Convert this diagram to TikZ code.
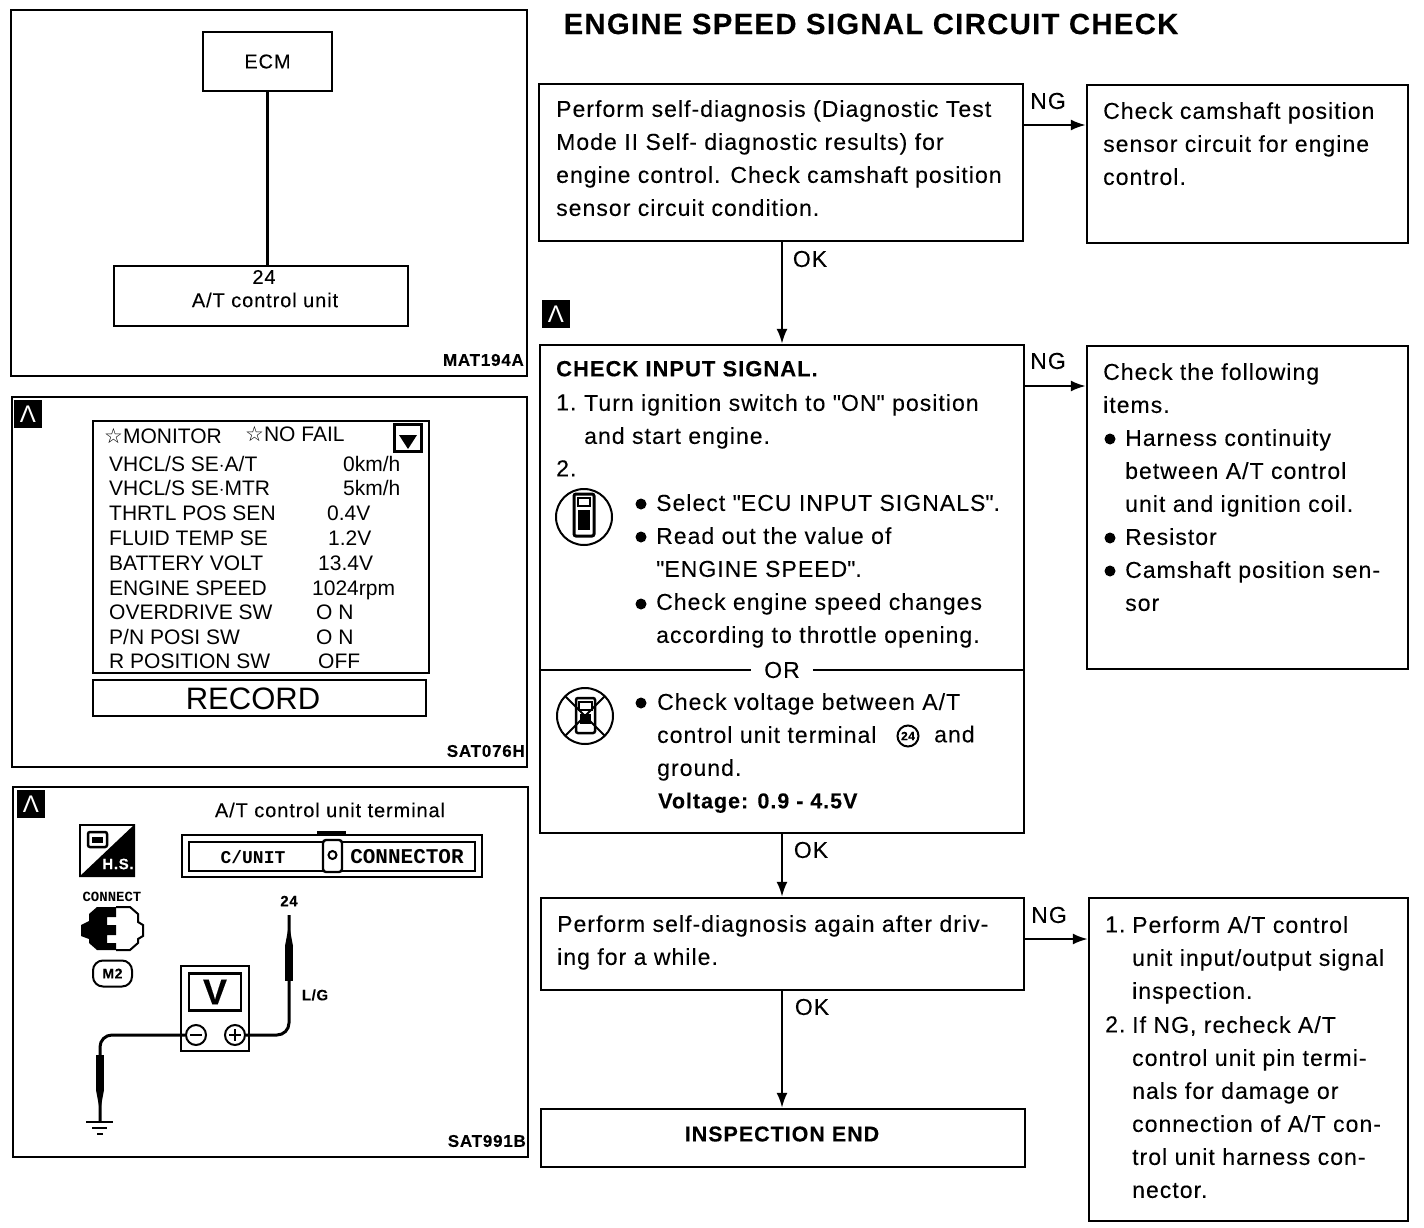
\documentclass[tikz,border=0pt]{standalone}
\usepackage{fontspec}
\setmainfont[LetterSpace=4.5, FakeBold=0.15]{Liberation Sans}
\newfontfamily\symfont{DejaVu Sans}
\newfontfamily\screenfont{Liberation Sans}
\newfontfamily\platefont{Liberation Mono}
\newfontfamily\quotefont[Ligatures=ResetAll, LetterSpace=4.5, FakeBold=0.15]{Liberation Sans}
\newcommand{\dq}{{\quotefont\symbol{"22}}}
\usetikzlibrary{arrows.meta}

\tikzset{
    panel/.style={draw, line width=2pt, inner sep=0pt},
    flowbox/.style={draw, line width=2.4pt, inner sep=0pt},
    flowarrow/.style={line width=2.2pt, -{Latex[length=15pt,width=11pt]}},
    badge/.style={fill=black, text=white, inner sep=0pt, minimum size=28pt, font=\screenfont\fontsize{24}{24}\selectfont},
    body/.style={anchor=north west, inner sep=0pt, yshift=1pt, align=left, font=\fontsize{23}{33}\selectfont, execute at begin node=\strut},
    small/.style={inner sep=0pt, font=\fontsize{20}{20}\selectfont},
    code/.style={anchor=east, inner sep=0pt, font=\bfseries\fontsize{17}{17}\selectfont},
    screen/.style={anchor=west, inner sep=0pt, yshift=-1pt, text height=16pt, text depth=4pt, font=\screenfont\fontsize{21}{22}\selectfont},
    tag/.style={inner sep=0pt, font=\fontsize{23}{23}\selectfont},
    dot/.style={circle, fill=black, inner sep=0pt, minimum size=11pt},
    probe/.style={line width=8pt},
    wire/.style={line width=3pt, rounded corners=12pt}
}

\begin{document}
\begin{tikzpicture}[x=1pt, y=-1pt]
    \useasboundingbox (0,0) rectangle (1424,1228);

    % Title
    \node[inner sep=0pt, font=\bfseries\fontsize{29.3}{29.3}\selectfont] (title) at (871,24) {ENGINE SPEED SIGNAL CIRCUIT CHECK};

    % Wiring panel
    \node[panel, minimum width=516pt, minimum height=366pt] (wiringpanel) at (269,193) {};
    \node[flowbox, minimum width=129pt, minimum height=59pt, font=\fontsize{20}{20}\selectfont] (ecm) at (267.5,61.5) {ECM};
    \node[flowbox, minimum width=294pt, minimum height=60pt] (tcu) at (261,296) {};
    \draw[line width=2.2pt] (ecm.south) -- (ecm.south |- tcu.north);
    \node[small] (tcupin) at (264,277) {24};
    \node[small] (tculabel) at (265,300) {A/T control unit};
    \node[code] (wiringcode) at (524,360) {MAT194A};

    % Monitor panel
    \node[panel, minimum width=515pt, minimum height=370pt] (monitorpanel) at (269.5,582) {};
    \node[badge] (badgemonitor) at (28,414) {Λ};
    \node[panel, minimum width=336pt, minimum height=252pt] (display) at (261,547) {};
    \node[screen] (monitorhead) at (104,436) {{\symfont ☆}MONITOR};
    \node[screen] (failhead) at (245,434) {{\symfont ☆}NO FAIL};
    \node[panel, line width=3pt, minimum size=27pt] (scrollbox) at (407.5,437.5) {};
    \fill (399,435) -- (417,435) -- (408,449) -- cycle;
    \foreach \row/\lab/\val/\vx/\vy in {
        a/{VHCL/S SE$\cdot$A/T}/{0km/h}/343/464,
        b/{VHCL/S SE$\cdot$MTR}/{5km/h}/343/488,
        c/{THRTL POS SEN}/{0.4V}/327/513,
        d/{FLUID TEMP SE}/{1.2V}/328/538,
        e/{BATTERY VOLT}/{13.4V}/318/563,
        f/{ENGINE SPEED}/{1024rpm}/312/588,
        g/{OVERDRIVE SW}/{O N}/316/612,
        h/{P/N POSI SW}/{O N}/316/637,
        i/{R POSITION SW}/{OFF}/318/661}
    {
        \node[screen] (lab\row) at (109,\vy) {\lab};
        \node[screen] (val\row) at (\vx,\vy) {\val};
    }
    \node[panel, minimum width=333pt, minimum height=36pt] (record) at (259.5,698) {};
    \node[inner sep=0pt, font=\screenfont\fontsize{31}{31}\selectfont] (recordlabel) at (253,699) {RECORD};
    \node[code] (monitorcode) at (525,751) {SAT076H};

    % Tester panel
    \node[panel, minimum width=515pt, minimum height=370pt] (testerpanel) at (270.5,972) {};
    \node[badge] (badgetester) at (31,804) {Λ};
    \node[inner sep=0pt, font=\fontsize{20}{20}\selectfont] (termhead) at (330,810) {A/T control unit terminal};

    % Harness connector
    \fill (317,831) rectangle (346,836);
    \node[flowbox, minimum width=300pt, minimum height=42pt] (connouter) at (332,856) {};
    \node[flowbox, minimum width=286pt, minimum height=29pt] (conninner) at (332,856.5) {};
    \node[flowbox, fill=white, minimum width=19pt, minimum height=32pt, rounded corners=3pt] (connlock) at (332.5,856) {};
    \draw[line width=2pt] (332.5,855) circle (4pt);
    \node[inner sep=0pt, font=\platefont\bfseries\fontsize{18}{18}\selectfont] (connleft) at (253,857) {C/UNIT};
    \node[inner sep=0pt, font=\platefont\bfseries\fontsize{21}{21}\selectfont] (connright) at (407,857) {CONNECTOR};

    % Harness icons
    \draw[line width=2pt] (80,825) rectangle (134,876);
    \fill (135,824) -- (135,877) -- (79,877) -- cycle;
    \draw[line width=2.5pt, rounded corners=2pt] (88,832) rectangle (107,847);
    \fill (92,837) rectangle (103,843);
    \node[inner sep=0pt, text=white, font=\bfseries\fontsize{15}{15}\selectfont] (hslabel) at (118,864) {H.S.};
    \node[inner sep=0pt, font=\platefont\bfseries\fontsize{14}{14}\selectfont] (connectlabel) at (112,897) {CONNECT};
    \draw[line width=2pt] (116,907) -- (130,907) -- (138,914) -- (138,922) -- (143,925) -- (143,936) -- (138,939) -- (138,943) -- (130,950) -- (116,950);
    \fill (116,907) -- (97,907) -- (89,914) -- (89,921) -- (81,925) -- (81,936) -- (89,939) -- (89,943) -- (97,950) -- (116,950) -- (116,943) -- (107,943) -- (107,935) -- (116,935) -- (116,925) -- (107,925) -- (107,917) -- (116,917) -- cycle;
    \node[draw, line width=2pt, rounded corners=10pt, minimum width=39pt, minimum height=26pt, inner sep=0pt, font=\bfseries\fontsize{14}{14}\selectfont] (harnesstag) at (112.5,973.5) {M2};

    % Voltmeter
    \node[flowbox, minimum width=68pt, minimum height=85pt] (meter) at (215,1008.5) {};
    \node[flowbox, minimum width=52pt, minimum height=37pt, font=\bfseries\fontsize{36}{36}\selectfont] (meterface) at (215,992) {V};
    \node[draw, circle, line width=2pt, minimum size=20pt, inner sep=0pt] (minus) at (196,1035) {};
    \node[draw, circle, line width=2pt, minimum size=20pt, inner sep=0pt] (plus) at (235,1035) {};
    \draw[line width=2pt] (190,1035) -- (202,1035) (229,1035) -- (241,1035) (235,1029) -- (235,1041);

    % Test leads
    \coordinate (plustip) at (289,915);
    \coordinate (minusend) at (100,1122);
    \node[inner sep=0pt, font=\bfseries\fontsize{15}{15}\selectfont] (pinlabel) at (289,901) {24};
    \node[inner sep=0pt, font=\bfseries\fontsize{15}{15}\selectfont] (leadcolor) at (315,995) {L/G};
    \draw[wire] (plus.east) -- (plus.east -| plustip) -- (plustip);
    \draw[wire] (minus.west) -- (minus.west -| minusend) -- (minusend);
    \draw[probe] (289,945) -- (289,981);
    \fill (285,946) -- (288,930) -- (290,930) -- (293,946) -- cycle;
    \draw[probe] (100,1055) -- (100,1091);
    \fill (96,1090) -- (99,1106) -- (101,1106) -- (104,1090) -- cycle;

    % Ground symbol
    \draw[line width=2pt] (86,1122) -- (113,1122);
    \draw[line width=2.5pt] (92,1128) -- (107,1128);
    \draw[line width=2pt] (97,1134) -- (103,1134);
    \node[code] (testercode) at (526,1141) {SAT991B};

    % First step
    \node[flowbox, minimum width=484pt, minimum height=157pt] (diag) at (781,162.5) {};
    \node[body] (diagtext) at (556,101) {Perform self-diagnosis (Diagnostic Test\\Mode II Self- diagnostic results) for\\engine control. Check camshaft position\\sensor circuit condition.};
    \node[flowbox, minimum width=321pt, minimum height=158pt] (cam) at (1247.5,164) {};
    \node[body] (camtext) at (1103,103) {Check camshaft position\\sensor circuit for engine\\control.};
    \coordinate (ngdiag) at (1023,125);
    \draw[flowarrow] (ngdiag) -- (ngdiag -| cam.west);
    \node[tag] (ngonelabel) at (1048,101) {NG};

    % Input signal check
    \node[badge] (badgecheck) at (556,314) {Λ};
    \node[flowbox, minimum width=484pt, minimum height=488pt] (check) at (782,589) {};
    \draw[flowarrow] (diag.south -| check.north) -- (check.north);
    \node[tag] (okonelabel) at (810,259) {OK};
    \node[body, font=\bfseries\fontsize{22}{33}\selectfont] (checkhead) at (556,354) {CHECK INPUT SIGNAL.};
    \node[body] (stepone) at (556,388) {1.};
    \node[body] (steponetext) at (584,395) {Turn ignition switch to \dq ON\dq{} position\\and start engine.};
    \node[body] (steptwo) at (556,454) {2.};
    \node[body] (selecttext) at (656,495) {Select \dq ECU INPUT SIGNALS\dq.\\Read out the value of\\\dq ENGINE SPEED\dq.\\Check engine speed changes\\according to throttle opening.};
    \node[inner sep=13pt, font=\fontsize{23}{23}\selectfont] (orlabel) at (782,670) {OR};
    \draw[line width=2.4pt] (check.west |- orlabel) -- (orlabel);
    \draw[line width=2.4pt] (orlabel) -- (check.east |- orlabel);
    \node[body] (volttext) at (657,694) {Check voltage between A/T\\control unit terminal\\ground.};
    \node[draw, circle, line width=2pt, minimum size=21pt, inner sep=0pt, font=\bfseries\fontsize{12}{12}\selectfont] (pinmark) at (908,736) {24};
    \node[body] (andtext) at (934,720) {and};
    \node[body, font=\bfseries\fontsize{21.5}{33}\selectfont] (voltvalue) at (658,786) {Voltage: 0.9 - 4.5V};
    \foreach \dx/\dy in {641/504, 641/537, 641/604, 641/703, 1110/439, 1110/538, 1110/571}
        \node[dot] (dot\dx-\dy) at (\dx,\dy) {};

    % Tester icons
    \node[draw, circle, line width=2pt, minimum size=56pt, inner sep=0pt] (iconon) at (584,517) {};
    \draw[line width=3pt, rounded corners=2pt] (574,494) rectangle (594,536);
    \fill (578,510) rectangle (590,530);
    \draw[line width=1.5pt] (578,498) rectangle (590,506);
    \node[draw, circle, line width=2pt, minimum size=56pt, inner sep=0pt] (iconoff) at (585,716) {};
    \draw[line width=2.5pt, rounded corners=2pt] (576,698) rectangle (595,733);
    \draw[line width=2pt] (579,702) rectangle (592,710);
    \fill (580,714) rectangle (591,724);
    \draw[line width=2pt] (565,696) -- (605,736);
    \draw[line width=2pt] (605,696) -- (565,736);

    % Items to check
    \node[flowbox, minimum width=321pt, minimum height=323pt] (items) at (1247.5,507.5) {};
    \node[body] (itemshead) at (1103,364) {Check the following\\items.};
    \node[body] (itemslist) at (1125,430) {Harness continuity\\between A/T control\\unit and ignition coil.\\Resistor\\Camshaft position sen-\\sor};
    \coordinate (ngcheck) at (1024,386);
    \draw[flowarrow] (ngcheck) -- (ngcheck -| items.west);
    \node[tag] (ngtwolabel) at (1048,361) {NG};

    % Drive and repeat
    \node[flowbox, minimum width=483pt, minimum height=92pt] (again) at (782.5,944) {};
    \draw[flowarrow] (check.south) -- (check.south |- again.north);
    \node[tag] (oktwolabel) at (811,850) {OK};
    \node[body] (againtext) at (557,916) {Perform self-diagnosis again after driv-\\ing for a while.};
    \node[flowbox, minimum width=319pt, minimum height=323pt] (unit) at (1248.5,1059.5) {};
    \node[body] (unitone) at (1105,910) {1.};
    \node[body] (unitonetext) at (1132,917) {Perform A/T control\\unit input/output signal\\inspection.};
    \node[body] (unittwo) at (1105,1010) {2.};
    \node[body] (unittwotext) at (1132,1017) {If NG, recheck A/T\\control unit pin termi-\\nals for damage or\\connection of A/T con-\\trol unit harness con-\\nector.};
    \coordinate (ngagain) at (1024,939);
    \draw[flowarrow] (ngagain) -- (ngagain -| unit.west);
    \node[tag] (ngthreelabel) at (1049,915) {NG};

    % End
    \node[flowbox, minimum width=484pt, minimum height=58pt] (finish) at (783,1138) {};
    \node[inner sep=0pt, font=\bfseries\fontsize{21.5}{21.5}\selectfont] (finishlabel) at (782,1134) {INSPECTION END};
    \draw[flowarrow] (check.south |- again.south) -- (check.south |- finish.north);
    \node[tag] (okthreelabel) at (812,1007) {OK};

\end{tikzpicture}
\end{document}
